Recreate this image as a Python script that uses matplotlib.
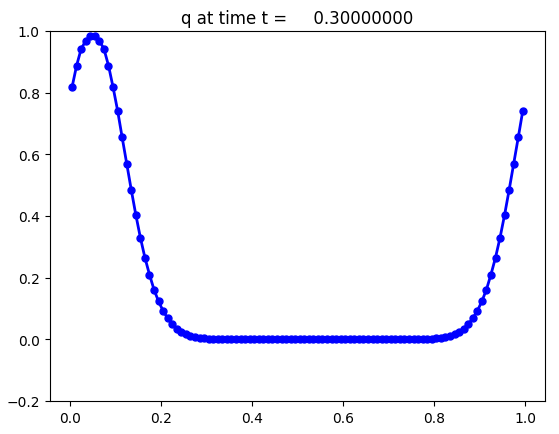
import numpy as np
import matplotlib
matplotlib.use("Agg")
import matplotlib.pyplot as plt

# cell centres
x = [0.005 + 0.01 * i for i in range(100)]

# values
q_left = [0.818, 0.888, 0.942, 0.968, 0.983, 0.983, 0.968, 0.942, 0.888, 0.818,
          0.742, 0.655, 0.570, 0.485, 0.404, 0.330, 0.265, 0.210, 0.161, 0.123,
          0.092, 0.068, 0.049, 0.035, 0.024, 0.016, 0.011, 0.007, 0.0045, 0.003,
          0.002, 0.001, 0.0006, 0.0003]
q_middle = [0.0] * 42
q_right = [0.0003, 0.0006, 0.001, 0.002, 0.003, 0.0045, 0.007, 0.011, 0.016, 0.024,
           0.035, 0.049, 0.068, 0.092, 0.123, 0.161, 0.210, 0.265, 0.330, 0.404,
           0.485, 0.570, 0.655, 0.742]
q = q_left + q_middle + q_right

title = "q at time t = %14.8f" % 0.3

fig = plt.figure(figsize=(5.59, 4.35), dpi=100)
ax = fig.add_axes([0.0886, 0.0759, 0.887, 0.8506])
ax.plot(x, q, 'bo-', linewidth=2, markersize=5)
ax.set_ylim(-0.2, 1.0)
ax.set_title(title)
fig.savefig("out.png", dpi=100)
